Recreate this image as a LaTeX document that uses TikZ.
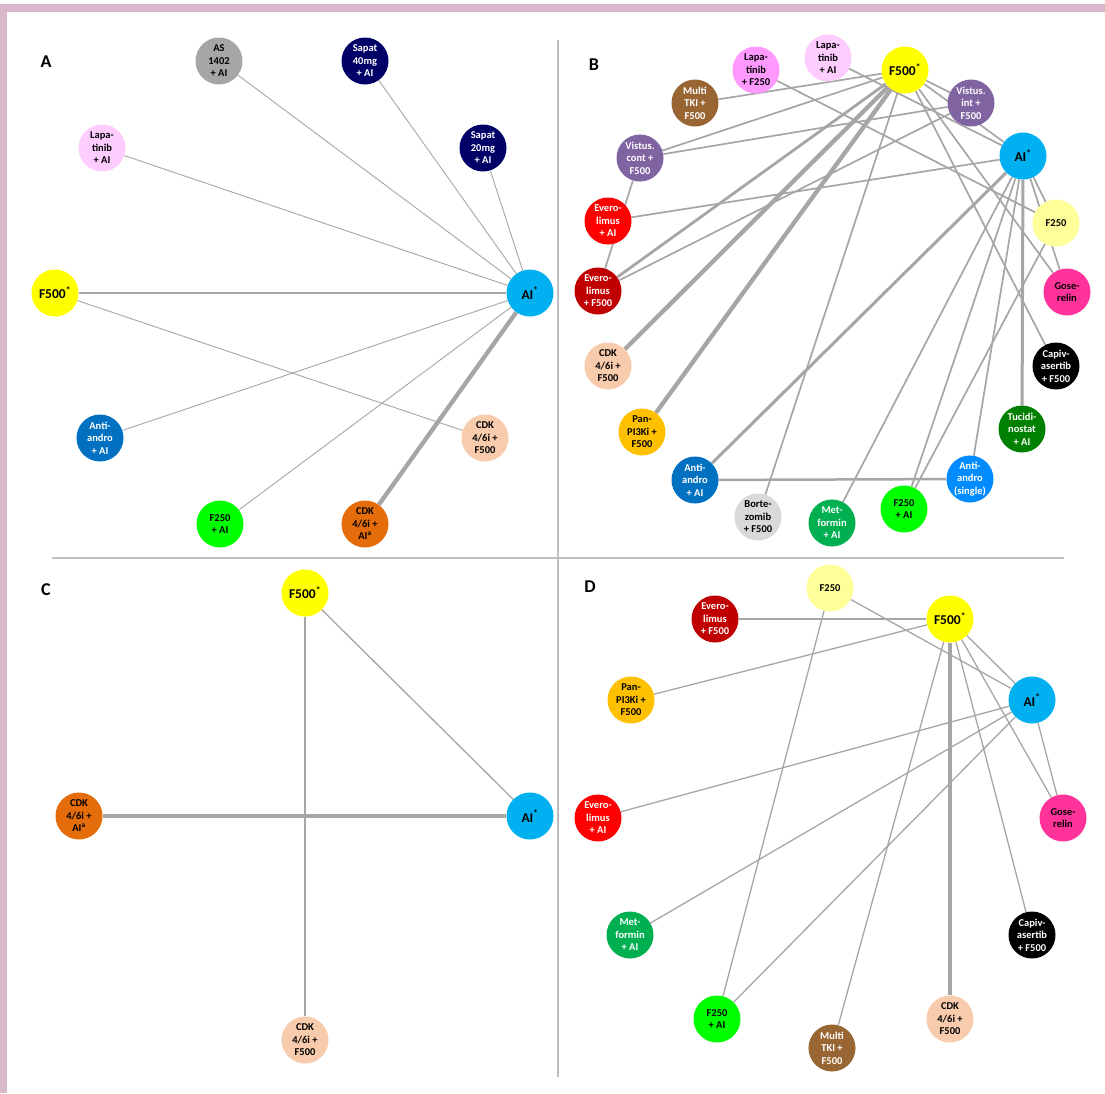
\documentclass[tikz,border=0pt]{standalone}
\usepackage{fontspec}
\setmainfont{Carlito}
\usetikzlibrary{backgrounds}
\definecolor{linegray}{HTML}{A6A6A6}
\definecolor{divgray}{HTML}{BFBFBF}
\definecolor{framepink}{HTML}{D9B8C9}
\definecolor{cAI}{HTML}{00B0F0}
\definecolor{cFfh}{HTML}{FFFF00}
\definecolor{cFtf}{HTML}{FFFF99}
\definecolor{cASx}{HTML}{A6A6A6}
\definecolor{cSap}{HTML}{000066}
\definecolor{cLapAI}{HTML}{FFCCFF}
\definecolor{cLapF}{HTML}{FF99FF}
\definecolor{cAndro}{HTML}{0070C0}
\definecolor{cAndroS}{HTML}{008CFF}
\definecolor{cCDKf}{HTML}{F8CBAD}
\definecolor{cCDKai}{HTML}{E46C0A}
\definecolor{cFAI}{HTML}{00FF00}
\definecolor{cTKI}{HTML}{996633}
\definecolor{cVist}{HTML}{8064A2}
\definecolor{cEvAI}{HTML}{FF0000}
\definecolor{cEvF}{HTML}{C00000}
\definecolor{cGos}{HTML}{FF3399}
\definecolor{cPI3K}{HTML}{FFC000}
\definecolor{cTuc}{HTML}{008000}
\definecolor{cBort}{HTML}{D9D9D9}
\definecolor{cMet}{HTML}{00B050}
\begin{document}
\begin{tikzpicture}[x=1pt,y=-1pt,
  drug/.style={circle,minimum size=47pt,inner sep=0pt,align=center,font=\fontsize{10.5}{12.5}\selectfont\bfseries},
  hub/.style={font=\fontsize{13.5}{15}\selectfont\bfseries},
  wt/.style={text=white},
  panel/.style={font=\fontsize{18}{20}\selectfont\bfseries},
  link/.style={draw=linegray,line width=#1},
  link/.default=0.9pt]
\useasboundingbox (0,0) rectangle (1105,1093);
\begin{scope}[on background layer]
\fill[white] (0,0) rectangle (1105,1093);
\fill[framepink] (0,3.5) rectangle (1105,11.5);
\fill[framepink] (0,3.5) rectangle (7,1093);
\draw[divgray,line width=1.2pt] (558,40) -- (558,1077);
\draw[divgray,line width=1.2pt] (52,558) -- (1064,558);
\end{scope}
% panel A
\node[panel] (labA) at (46,62) {A};
\node[drug,fill=cASx] (aAS) at (219,61) {AS\\1402\\+ AI};
\node[drug,fill=cSap,wt] (aSap40) at (365,61) {Sapat\\40mg\\+ AI};
\node[drug,fill=cSap,wt] (aSap20) at (483,148) {Sapat\\20mg\\+ AI};
\node[drug,fill=cLapAI] (aLapAI) at (102,148) {Lapa-\\tinib\\+ AI};
\node[drug,hub,fill=cFfh] (aF500) at (55,293) {F500\textsuperscript{*}};
\node[drug,hub,fill=cAI] (aAI) at (530,293) {AI\textsuperscript{*}};
\node[drug,fill=cAndro,wt] (aAndro) at (100,438) {Anti-\\andro\\+ AI};
\node[drug,fill=cCDKf] (aCDKf) at (485,438) {CDK\\4/6i +\\F500};
\node[drug,fill=cFAI] (aF250AI) at (220,524) {F250\\+ AI};
\node[drug,fill=cCDKai] (aCDKai) at (365,524) {CDK\\4/6i +\\AI\textsuperscript{a}};
\begin{scope}[on background layer]
\foreach \n in {aAS,aSap40,aSap20,aLapAI,aAndro,aF250AI}
  \draw[link] (\n) -- (aAI);
\draw[link=1.5pt] (aF500) -- (aAI);
\draw[link=4.3pt] (aCDKai) -- (aAI);
\draw[link] (aF500) -- (aCDKf);
\end{scope}
% panel B
\node[panel] (labB) at (594,65) {B};
\node[drug,fill=cLapF] (bLapF) at (756,70) {Lapa-\\tinib\\+ F250};
\node[drug,fill=cLapAI] (bLapAI) at (828,58) {Lapa-\\tinib\\+ AI};
\node[drug,hub,fill=cFfh] (bF500) at (905,70) {F500\textsuperscript{*}};
\node[drug,fill=cTKI,wt] (bTKI) at (695,103) {Multi\\TKI +\\F500};
\node[drug,fill=cVist,wt] (bVint) at (971,103) {Vistus.\\int +\\F500};
\node[drug,fill=cVist,wt] (bVcont) at (640,158) {Vistus.\\cont +\\F500};
\node[drug,hub,fill=cAI] (bAI) at (1023,156) {AI\textsuperscript{*}};
\node[drug,fill=cEvAI,wt] (bEvAI) at (608,221) {Evero-\\limus\\+ AI};
\node[drug,fill=cFtf] (bF250) at (1056,223) {F250};
\node[drug,fill=cEvF,wt] (bEvF) at (598,291) {Evero-\\limus\\+ F500};
\node[drug,fill=cGos] (bGos) at (1067,292) {Gose-\\relin};
\node[drug,fill=cCDKf] (bCDKf) at (608,366) {CDK\\4/6i +\\F500};
\node[drug,fill=black,wt] (bCap) at (1056,366) {Capiv-\\asertib\\+ F500};
\node[drug,fill=cPI3K] (bPI3K) at (642,432) {Pan-\\PI3Ki +\\F500};
\node[drug,fill=cTuc,wt] (bTuc) at (1022,429) {Tucidi-\\nostat\\+ AI};
\node[drug,fill=cAndro,wt] (bAndro) at (695,480) {Anti-\\andro\\+ AI};
\node[drug,fill=cAndroS,wt] (bAndroS) at (970,479) {Anti-\\andro\\(single)};
\node[drug,fill=cBort] (bBort) at (758,517) {Borte-\\zomib\\+ F500};
\node[drug,fill=cMet,wt] (bMet) at (832,523) {Met-\\formin\\+ AI};
\node[drug,fill=cFAI] (bF250AI) at (904,509) {F250\\+ AI};
\begin{scope}[on background layer]
\foreach \n in {bTKI,bVcont,bVint,bBort,bAI,bGos,bCap}
  \draw[link=1.7pt] (bF500) -- (\n);
\draw[link=2.8pt] (bF500) -- (bEvF);
\draw[link=4.3pt] (bF500) -- (bCDKf);
\draw[link=4.3pt] (bF500) -- (bPI3K);
\draw[link=1.7pt] (bVcont) -- (bVint);
\draw[link=1.7pt] (bVcont) -- (bEvF);
\draw[link=1.7pt] (bVint) -- (bEvF);
\draw[link=1.7pt] (bLapF) -- (bF250);
\foreach \n in {bLapAI,bEvAI,bF250,bGos,bMet,bF250AI,bAndroS}
  \draw[link=1.7pt] (bAI) -- (\n);
\draw[link=3pt] (bAI) -- (bAndro);
\draw[link=3pt] (bAI) -- (bTuc);
\draw[link=1.7pt] (bF250) -- (bF250AI);
\draw[link=2.5pt] (bAndro) -- (bAndroS);
\end{scope}
% panel C
\node[panel] (labC) at (46,590) {C};
\node[drug,hub,fill=cFfh] (cF500) at (305,593) {F500\textsuperscript{*}};
\node[drug,fill=cCDKai] (cCDKai) at (79,816) {CDK\\4/6i +\\AI\textsuperscript{a}};
\node[drug,hub,fill=cAI] (cAI) at (530,816) {AI\textsuperscript{*}};
\node[drug,fill=cCDKf] (cCDKf) at (305,1040) {CDK\\4/6i +\\F500};
\begin{scope}[on background layer]
\draw[link=1.8pt] (cF500) -- (cCDKf);
\draw[link=1.3pt] (cF500) -- (cAI);
\draw[link=4.2pt] (cCDKai) -- (cAI);
\end{scope}
% panel D
\node[panel] (labD) at (590,587) {D};
\node[drug,fill=cFtf] (dF250) at (830,588) {F250};
\node[drug,fill=cEvF,wt] (dEvF) at (715,619) {Evero-\\limus\\+ F500};
\node[drug,hub,fill=cFfh] (dF500) at (950,619) {F500\textsuperscript{*}};
\node[drug,fill=cPI3K] (dPI3K) at (631,700) {Pan-\\PI3Ki +\\F500};
\node[drug,hub,fill=cAI] (dAI) at (1032,700) {AI\textsuperscript{*}};
\node[drug,fill=cEvAI,wt] (dEvAI) at (598,818) {Evero-\\limus\\+ AI};
\node[drug,fill=cGos] (dGos) at (1063,818) {Gose-\\relin};
\node[drug,fill=cMet,wt] (dMet) at (630,935) {Met-\\formin\\+ AI};
\node[drug,fill=black,wt] (dCap) at (1032,935) {Capiv-\\asertib\\+ F500};
\node[drug,fill=cFAI] (dF250AI) at (717,1019) {F250\\+ AI};
\node[drug,fill=cCDKf] (dCDKf) at (950,1019) {CDK\\4/6i +\\F500};
\node[drug,fill=cTKI,wt] (dTKI) at (832,1048) {Multi\\TKI +\\F500};
\begin{scope}[on background layer]
\draw[link=2.4pt] (dEvF) -- (dF500);
\foreach \n in {dPI3K,dAI,dGos,dCap,dTKI}
  \draw[link=1.3pt] (dF500) -- (\n);
\draw[link=4pt] (dF500) -- (dCDKf);
\draw[link=1.3pt] (dF250) -- (dAI);
\draw[link=1.3pt] (dF250) -- (dF250AI);
\foreach \n in {dGos,dEvAI,dMet,dF250AI}
  \draw[link=1.3pt] (dAI) -- (\n);
\end{scope}
\end{tikzpicture}
\end{document}
